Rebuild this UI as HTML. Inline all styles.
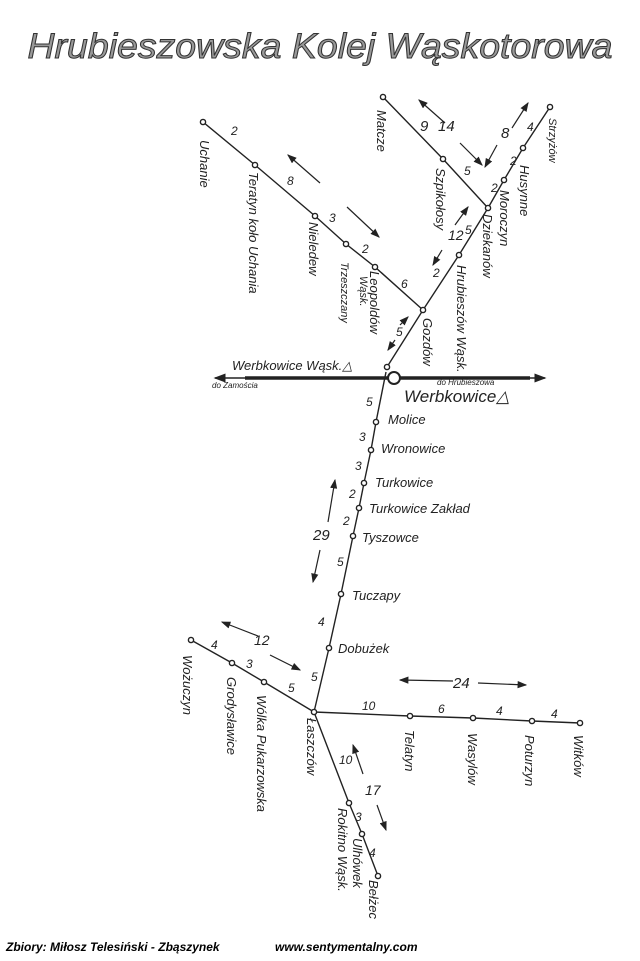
<!DOCTYPE html>
<html><head><meta charset="utf-8"><style>
html,body{margin:0;padding:0;background:#fff}
svg{display:block}
text{font-family:"Liberation Sans",sans-serif;font-style:italic;fill:#222}
.n{font-size:12px}
.l{font-size:13px}
</style></head><body>
<svg width="640" height="961" viewBox="0 0 640 961" xmlns="http://www.w3.org/2000/svg">
<defs><marker id="a" markerWidth="8" markerHeight="6" refX="7" refY="3" orient="auto"><path d="M0,0 L8,3 L0,6 Z" fill="#222"/></marker></defs>
<rect width="640" height="961" fill="#fff"/>
<text x="320" y="58" text-anchor="middle" style="font-size:35px;fill:#999;stroke:#333;stroke-width:1" textLength="585" lengthAdjust="spacingAndGlyphs">Hrubieszowska Kolej Wąskotorowa</text>

<g stroke="#222" stroke-width="1.4" fill="none">
<polyline points="203,122 255,165 315,216 346,244 375,267 423,310"/>
<polyline points="383,97 443,159 488,208"/>
<polyline points="550,107 523,148 504,180 488,208 459,255 423,310 387,367"/>
<polyline points="386,372 376,422 371,450 364,483 359,508 353,536 341,594 329,648 314,712"/>
<polyline points="191,640 232,663 264,682 314,712"/>
<polyline points="314,712 410,716 473,718 532,721 580,723"/>
<polyline points="314,712 349,803 362,834 378,876"/>
</g>
<line x1="245" y1="378" x2="530" y2="378" stroke="#222" stroke-width="3.5"/>
<line x1="215" y1="378" x2="245" y2="378" stroke="#222" stroke-width="1.5" marker-end="url(#a)" transform="rotate(180 230 378)"/>
<line x1="530" y1="378" x2="545" y2="378" stroke="#222" stroke-width="1.5" marker-end="url(#a)"/>
<circle cx="394" cy="378" r="6" fill="#fff" stroke="#222" stroke-width="2"/>

<g fill="#fff" stroke="#222" stroke-width="1.4">
<circle cx="203" cy="122" r="2.6"/><circle cx="255" cy="165" r="2.6"/><circle cx="315" cy="216" r="2.6"/><circle cx="346" cy="244" r="2.6"/><circle cx="375" cy="267" r="2.6"/><circle cx="423" cy="310" r="2.6"/>
<circle cx="383" cy="97" r="2.6"/><circle cx="443" cy="159" r="2.6"/><circle cx="488" cy="208" r="2.6"/>
<circle cx="550" cy="107" r="2.6"/><circle cx="523" cy="148" r="2.6"/><circle cx="504" cy="180" r="2.6"/><circle cx="459" cy="255" r="2.6"/><circle cx="387" cy="367" r="2.6"/>
<circle cx="376" cy="422" r="2.6"/><circle cx="371" cy="450" r="2.6"/><circle cx="364" cy="483" r="2.6"/><circle cx="359" cy="508" r="2.6"/><circle cx="353" cy="536" r="2.6"/><circle cx="341" cy="594" r="2.6"/><circle cx="329" cy="648" r="2.6"/><circle cx="314" cy="712" r="2.6"/>
<circle cx="191" cy="640" r="2.6"/><circle cx="232" cy="663" r="2.6"/><circle cx="264" cy="682" r="2.6"/>
<circle cx="410" cy="716" r="2.6"/><circle cx="473" cy="718" r="2.6"/><circle cx="532" cy="721" r="2.6"/><circle cx="580" cy="723" r="2.6"/>
<circle cx="349" cy="803" r="2.6"/><circle cx="362" cy="834" r="2.6"/><circle cx="378" cy="876" r="2.6"/>
</g>

<g stroke="#222" stroke-width="1.2" marker-end="url(#a)">
<line x1="320" y1="183" x2="288" y2="155"/><line x1="347" y1="207" x2="379" y2="237"/>
<line x1="445" y1="123" x2="419" y2="100"/><line x1="460" y1="143" x2="482" y2="165"/>
<line x1="512" y1="128" x2="528" y2="103"/><line x1="497" y1="145" x2="485" y2="167"/>
<line x1="455" y1="225" x2="468" y2="207"/><line x1="442" y1="250" x2="433" y2="265"/>
<line x1="400" y1="325" x2="408" y2="317"/><line x1="395" y1="340" x2="388" y2="350"/>
<line x1="328" y1="522" x2="335" y2="480"/><line x1="320" y1="550" x2="313" y2="582"/>
<line x1="258" y1="636" x2="222" y2="622"/><line x1="270" y1="655" x2="300" y2="670"/>
<line x1="453" y1="681" x2="400" y2="680"/><line x1="478" y1="683" x2="526" y2="685"/>
<line x1="363" y1="774" x2="353" y2="745"/><line x1="377" y1="805" x2="386" y2="830"/>
</g>

<g class="n">
<text x="231" y="135">2</text><text x="287" y="185">8</text><text x="329" y="222">3</text><text x="362" y="253">2</text><text x="401" y="288">6</text>
<text x="420" y="131" style="font-size:15px">9</text><text x="438" y="131" style="font-size:15px">14</text><text x="464" y="175">5</text>
<text x="501" y="138" style="font-size:15px">8</text><text x="527" y="131">4</text><text x="510" y="165">2</text><text x="491" y="192">2</text>
<text x="465" y="234">5</text><text x="448" y="240" style="font-size:14px">12</text><text x="433" y="277">2</text><text x="396" y="336">5</text>
<text x="366" y="406">5</text><text x="359" y="441">3</text><text x="355" y="470">3</text><text x="349" y="498">2</text><text x="343" y="525">2</text><text x="337" y="566">5</text>
<text x="313" y="540" style="font-size:15px">29</text><text x="318" y="626">4</text><text x="311" y="681">5</text>
<text x="211" y="649">4</text><text x="246" y="668">3</text><text x="288" y="692">5</text><text x="254" y="645" style="font-size:14px">12</text>
<text x="362" y="710">10</text><text x="438" y="713">6</text><text x="496" y="715">4</text><text x="551" y="718">4</text>
<text x="453" y="688" style="font-size:15px">24</text>
<text x="339" y="764">10</text><text x="365" y="795" style="font-size:14px">17</text><text x="355" y="821">3</text><text x="369" y="857">4</text>
</g>

<g class="l">
<text transform="translate(200,140) rotate(90)">Uchanie</text>
<text transform="translate(249,172) rotate(90)">Teratyn koło Uchania</text>
<text transform="translate(309,222) rotate(90)">Nieledew</text>
<text transform="translate(341,262) rotate(90)" style="font-size:11px">Trzeszczany</text>
<text transform="translate(370,271) rotate(90)">Leopoldów</text>
<text transform="translate(360,276) rotate(90)" style="font-size:11px">Wąsk.</text>
<text transform="translate(423,318) rotate(90)">Gozdów</text>
<text transform="translate(377,110) rotate(90)">Matcze</text>
<text transform="translate(436,168) rotate(90)">Szpikołosy</text>
<text transform="translate(549,118) rotate(90)" style="font-size:11px">Strzyżów</text>
<text transform="translate(520,165) rotate(90)">Husynne</text>
<text transform="translate(500,190) rotate(90)">Moroczyn</text>
<text transform="translate(483,214) rotate(90)">Dziekanów</text>
<text transform="translate(457,265) rotate(90)">Hrubieszów Wąsk.</text>
<text x="232" y="370">Werbkowice Wąsk.△</text>
<text x="212" y="388" style="font-size:8px">do Zamościa</text>
<text x="437" y="385" style="font-size:8px">do Hrubieszowa</text>
<text x="404" y="402" style="font-size:17px">Werbkowice△</text>
<text x="388" y="424">Molice</text>
<text x="381" y="453">Wronowice</text>
<text x="375" y="487">Turkowice</text>
<text x="369" y="513">Turkowice Zakład</text>
<text x="362" y="542">Tyszowce</text>
<text x="352" y="600">Tuczapy</text>
<text x="338" y="653">Dobużek</text>
<text transform="translate(183,655) rotate(90)">Wożuczyn</text>
<text transform="translate(227,677) rotate(90)">Grodysławice</text>
<text transform="translate(257,695) rotate(90)">Wólka Pukarzowska</text>
<text transform="translate(307,718) rotate(90)">Łaszczów</text>
<text transform="translate(405,730) rotate(90)">Telatyn</text>
<text transform="translate(468,733) rotate(90)">Wasylów</text>
<text transform="translate(525,735) rotate(90)">Poturzyn</text>
<text transform="translate(574,735) rotate(90)">Witków</text>
<text transform="translate(338,808) rotate(90)">Rokitno Wąsk.</text>
<text transform="translate(353,838) rotate(90)">Ulhówek</text>
<text transform="translate(369,880) rotate(90)">Bełżec</text>
</g>

<text x="6" y="951" style="font-size:12px;font-weight:bold;fill:#000">Zbiory: Miłosz Telesiński - Zbąszynek</text>
<text x="275" y="951" style="font-size:12px;font-weight:bold;fill:#000">www.sentymentalny.com</text>
</svg>
</body></html>
